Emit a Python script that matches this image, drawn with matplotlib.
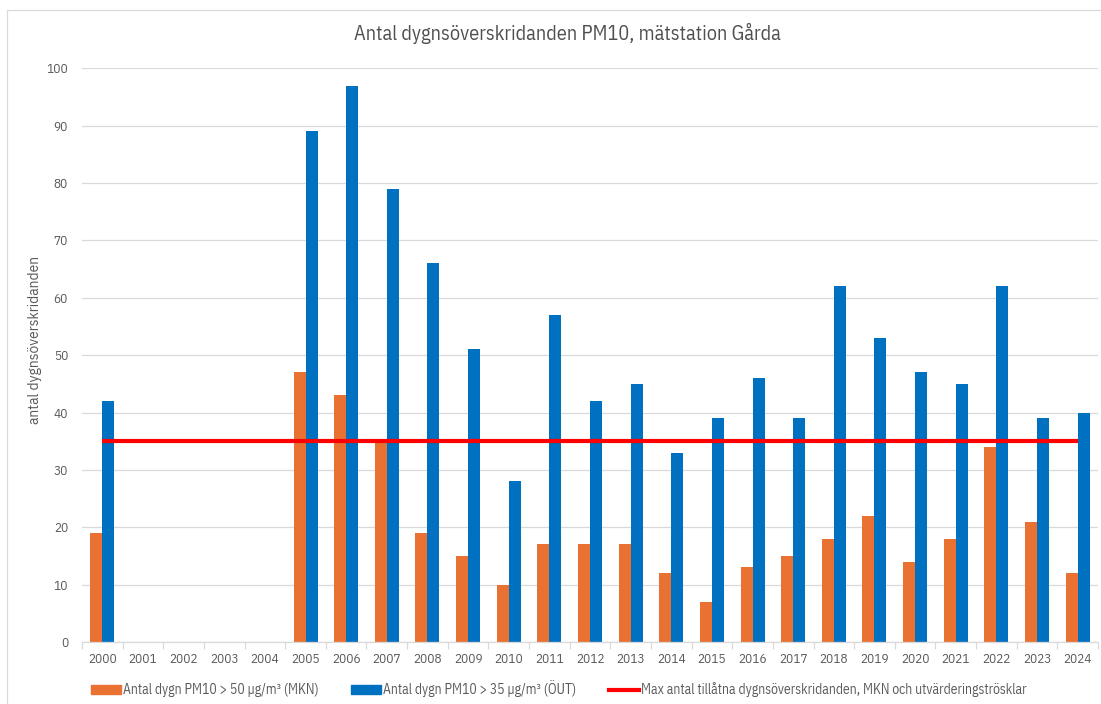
import numpy as np
import matplotlib
matplotlib.use("Agg")
import matplotlib.pyplot as plt
from matplotlib.patches import Patch, Rectangle
from matplotlib.lines import Line2D

plt.rcParams['font.family'] = ['IBM Plex Sans Condensed', 'DejaVu Sans']

years = [str(y) for y in range(2000, 2025)]
nan = np.nan
# Antal dygn PM10 > 50 µg/m3 (MKN)
mkn = [19, nan, nan, nan, nan, 47, 43, 35, 19, 15, 10, 17, 17, 17, 12, 7, 13, 15, 18, 22, 14, 18, 34, 21, 12]
# Antal dygn PM10 > 35 µg/m3 (ÖUT)
out = [42, nan, nan, nan, nan, 89, 97, 79, 66, 51, 28, 57, 42, 45, 33, 39, 46, 39, 62, 53, 47, 45, 62, 39, 40]
limit = [35] * len(years)

orange = "#E97132"
blue = "#0070C0"
red = "#FF0000"
grid_col = "#D9D9D9"
text_col = "#595959"

fig = plt.figure(figsize=(11.01, 7.04), dpi=100)
ax = fig.add_axes([82 / 1101, 1 - 642 / 704, 1016 / 1101, (642 - 68.3) / 704])

x = np.arange(len(years))
w = 0.295
ax.bar(x - w / 2, mkn, width=w, color=orange, zorder=2)
ax.bar(x + w / 2, out, width=w, color=blue, zorder=2)
ax.plot(x, limit, color=red, lw=3.0, zorder=3, solid_capstyle="butt")

ax.set_xlim(-0.5, len(years) - 0.5)
ax.set_ylim(0, 100)
ax.set_yticks(range(0, 101, 10))
ax.yaxis.grid(True, color=grid_col, lw=0.9, zorder=0)
ax.set_axisbelow(True)
ax.tick_params(axis="y", length=0, pad=10, labelsize=9.5, labelcolor=text_col)

ax.set_xticks(x)
ax.set_xticklabels(years)
ax.set_xticks(np.arange(-0.5, len(years)), minor=True)
ax.tick_params(axis="x", which="major", length=0, pad=8, labelsize=9.5, labelcolor=text_col)
ax.tick_params(axis="x", which="minor", length=5, color=grid_col, width=0.9)

for s in ["top", "right", "left"]:
    ax.spines[s].set_visible(False)
ax.spines["bottom"].set_color(grid_col)
ax.spines["bottom"].set_linewidth(0.9)

fig.text(35 / 1101, 1 - 340 / 704, "antal dygnsöverskridanden", rotation=90,
         ha="center", va="center", fontsize=10, color=text_col,
         family=["IBM Plex Sans", "DejaVu Sans"])

fig.text(567 / 1101, 1 - 33 / 704, "Antal dygnsöverskridanden PM10, mätstation Gårda",
         ha="center", va="center", fontsize=14.6, color="#505050")

# chart frame
fig.patches.append(Rectangle((7 / 1101, -0.01), 1.0, 1 - 10 / 704 + 0.01,
                             transform=fig.transFigure, fill=False,
                             edgecolor=grid_col, lw=0.9))

handles = [Patch(color=orange), Patch(color=blue), Line2D([], [], color=red, lw=3)]
labels = ["Antal dygn PM10 > 50 µg/m³ (MKN)",
          "Antal dygn PM10 > 35 µg/m³ (ÖUT)",
          "Max antal tillåtna dygnsöverskridanden, MKN och utvärderingströsklar"]
fig.legend(handles, labels, loc="center left", bbox_to_anchor=(91 / 1101, 1 - 689 / 704),
           ncol=3, frameon=False, fontsize=9.8, labelcolor=text_col,
           handlelength=2.2, handleheight=0.6, handletextpad=0.15,
           columnspacing=2.4, borderaxespad=0, borderpad=0)

fig.savefig("out.png", dpi=100)
